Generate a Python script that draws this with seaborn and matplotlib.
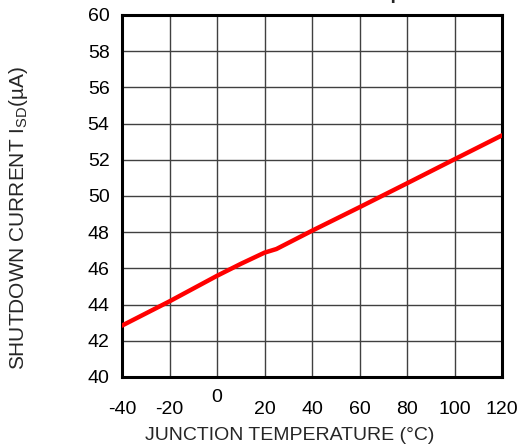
import matplotlib.pyplot as plt
import seaborn as sns
import pandas as pd

# values
temp_c = [-40, -20, 0, 10, 20, 25, 40, 60, 80, 100, 120]
isd_ua = [42.84, 44.18, 45.59, 46.25, 46.87, 47.07, 48.08, 49.38, 50.7, 52.03, 53.35]
x_ticks = [-40, -20, 0, 20, 40, 60, 80, 100, 120]
y_ticks = [40, 42, 44, 46, 48, 50, 52, 54, 56, 58, 60]

df = pd.DataFrame({"temp": temp_c, "isd": isd_ua})

sns.set_style("white")
plt.rcParams["font.family"] = ["Liberation Sans", "DejaVu Sans"]
plt.rcParams["mathtext.default"] = "regular"

fig = plt.figure(figsize=(5.19, 4.44), dpi=100)
ax = fig.add_axes([122 / 519, 1 - 377 / 444, 380 / 519, 362 / 444])

for xv in x_ticks:
    ax.axvline(xv, color="#404040", lw=1.0, zorder=1)
for yv in y_ticks:
    ax.axhline(yv, color="#404040", lw=1.0, zorder=1)

sns.lineplot(data=df, x="temp", y="isd", color="#ff0000", lw=3.2, ax=ax, zorder=3)

ax.set_xlim(-40, 120)
ax.set_ylim(40, 60)
ax.set_xticks(x_ticks)
ax.set_yticks(y_ticks)
ax.set_xticklabels([str(v) for v in x_ticks])
ax.tick_params(axis="both", length=0, labelsize=14, colors="black")
ax.tick_params(axis="x", pad=17)
ax.tick_params(axis="y", pad=9)
for lbl in ax.get_xticklabels():
    if lbl.get_text() == "0":
        lbl.set_y(lbl.get_position()[1] + 0.033)

for sp in ax.spines.values():
    sp.set_visible(True)
    sp.set_color("black")
    sp.set_linewidth(2.2)

ax.set_xlabel("")
ax.set_ylabel("")
fig.text(290 / 519, 1 - 435 / 444, "JUNCTION TEMPERATURE (°C)", ha="center", va="center", fontsize=14)
fig.text(19 / 519, 1 - 218 / 444, r"SHUTDOWN CURRENT I$_{SD}$(µA)", ha="center", va="center",
         rotation=90, fontsize=15)

# title sits mostly above the cropped top edge
fig.text(402 / 519, 1 + 1.5 / 444, "Shutdown Current vs Temp", ha="right", va="baseline",
         fontsize=14, fontweight="bold")

fig.savefig("out.png", dpi=100)
